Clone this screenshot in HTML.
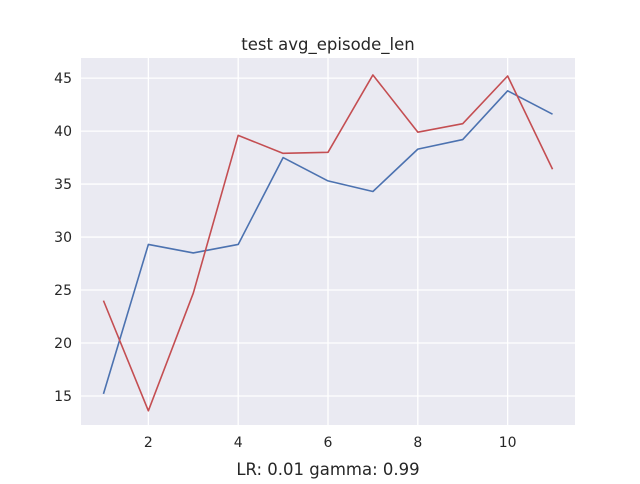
<!DOCTYPE html>
<html><head><meta charset="utf-8"><style>
body{margin:0;background:#fff;width:640px;height:480px;overflow:hidden;font-family:"DejaVu Sans","Liberation Sans",sans-serif}
</style></head><body>
<svg id="chart" width="640" height="480" xmlns="http://www.w3.org/2000/svg" font-family="DejaVu Sans, Liberation Sans, sans-serif"></svg>
<script>
const xValues=[1,2,3,4,5,6,7,8,9,10,11];
const blueSeries=[15.2,29.3,28.5,29.3,37.5,35.3,34.3,38.3,39.2,43.8,41.6];
const redSeries=[24.0,13.6,24.7,39.6,37.9,38.0,45.3,39.9,40.7,45.2,36.4];
const xTicks=[2,4,6,8,10];
const yTicks=[15,20,25,30,35,40,45];
const title="test avg_episode_len";
const xLabel="LR: 0.01 gamma: 0.99";

const L=81,R=575,T=58,B=425;
const xMin=0.5,xMax=11.5,yMin=12.26,yMax=46.9;
const sx=v=>L+(v-xMin)/(xMax-xMin)*(R-L);
const sy=v=>B-(v-yMin)/(yMax-yMin)*(B-T);
const svg=document.getElementById('chart');
const NS='http://www.w3.org/2000/svg';
function mk(tag,attrs,parent){const e=document.createElementNS(NS,tag);for(const k in attrs)e.setAttribute(k,attrs[k]);(parent||svg).appendChild(e);return e;}

const bg=mk('rect',{x:L,y:T,width:R-L,height:B-T,fill:'#eaeaf2'});



xTicks.forEach(t=>{
  const g=mk('line',{x1:sx(t),x2:sx(t),y1:T,y2:B,stroke:'#fff','stroke-width':1.3});
  
  
  const lb=mk('text',{x:sx(t),y:B+22,'text-anchor':'middle','font-size':14,fill:'#262626'});
  lb.textContent=t;
  
  
});
yTicks.forEach(t=>{
  const g=mk('line',{x1:L,x2:R,y1:sy(t),y2:sy(t),stroke:'#fff','stroke-width':1.3});
  
  
  const lb=mk('text',{x:L-9,y:sy(t)+5,'text-anchor':'end','font-size':14,fill:'#262626'});
  lb.textContent=t;
  
  
});

function series(vals,color,name){
  const p=mk('polyline',{points:vals.map((v,i)=>sx(xValues[i])+','+sy(v)).join(' '),fill:'none',stroke:color,'stroke-width':1.6,'stroke-linejoin':'round'});
  
  
}
series(blueSeries,'#4c72b0','blue-series-line');
series(redSeries,'#c44e52','red-series-line');

const tt=mk('text',{x:(L+R)/2,y:50,'text-anchor':'middle','font-size':16.5,fill:'#262626'});
tt.textContent=title;


const xl=mk('text',{x:(L+R)/2,y:475,'text-anchor':'middle','font-size':16.5,fill:'#262626'});
xl.textContent=xLabel;


</script>
</body></html>
